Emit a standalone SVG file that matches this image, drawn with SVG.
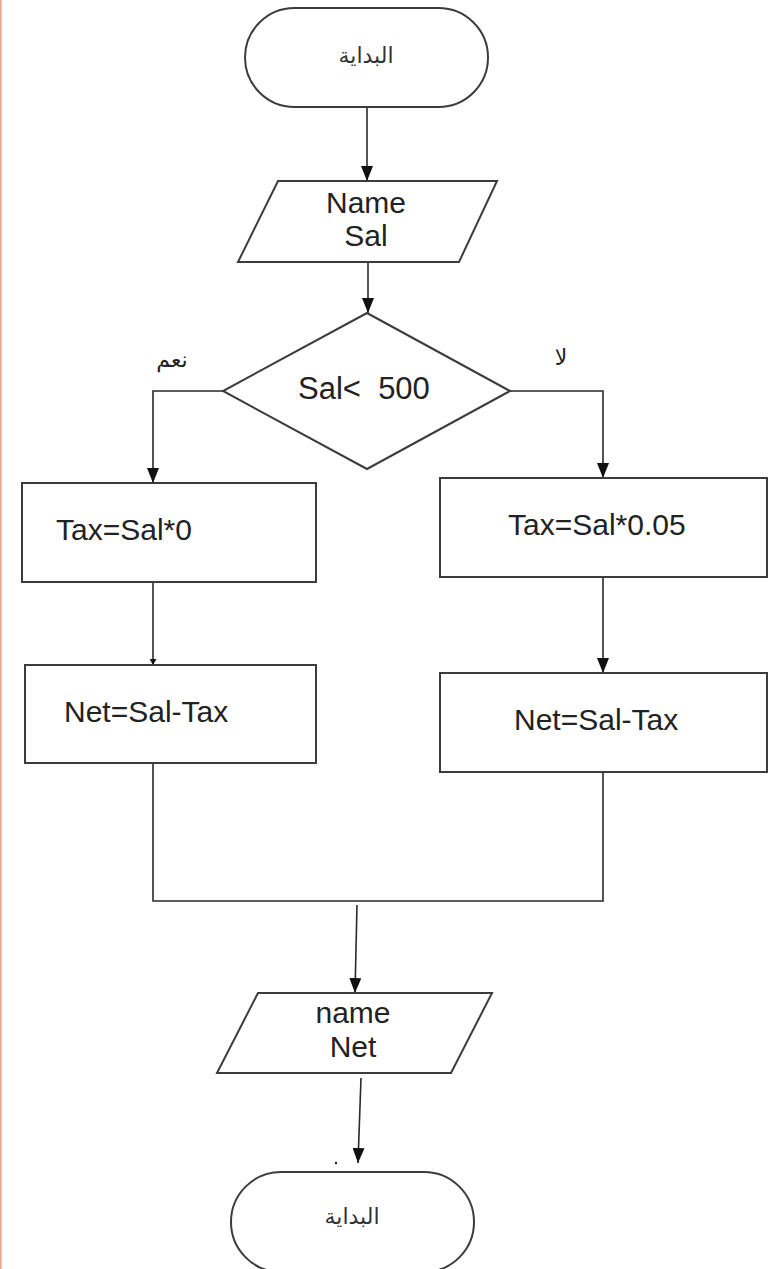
<svg xmlns="http://www.w3.org/2000/svg" width="769" height="1269" viewBox="0 0 769 1269">
<style>
.shape{fill:#fff;stroke:#3c3c3c;stroke-width:2}
.conn{fill:none;stroke:#2a2a2a;stroke-width:1.6}
.t{font-family:"Liberation Sans",Arial,sans-serif;font-size:30px;fill:#222}
.ar{font-family:"DejaVu Sans","Noto Sans",sans-serif;font-size:22px;fill:#333}
.lb{font-family:"DejaVu Sans","Noto Sans",sans-serif;font-size:22px;fill:#222}
</style>
<defs>
<marker id="ah" viewBox="0 0 15 12" refX="15" refY="6" markerWidth="15" markerHeight="12" markerUnits="userSpaceOnUse" orient="auto">
<path d="M0,0 L15,6 L0,12 Z" fill="#111"/>
</marker>
<marker id="ahs" viewBox="0 0 6 7" refX="6" refY="3.5" markerWidth="6" markerHeight="7" markerUnits="userSpaceOnUse" orient="auto">
<path d="M0,0 L6,3.5 L0,7 Z" fill="#111"/>
</marker>
</defs>
<rect x="0" y="0" width="769" height="1269" fill="#fff"/>
<line x1="0.8" y1="0" x2="0.8" y2="1269" stroke="#eea58e" stroke-width="1.6"/>

<g id="connectors">
<line class="conn" x1="367" y1="107" x2="367" y2="181" marker-end="url(#ah)"/>
<line class="conn" x1="368" y1="262" x2="368" y2="313" marker-end="url(#ah)"/>
<polyline class="conn" points="223,391 153,391 153,483" marker-end="url(#ah)"/>
<polyline class="conn" points="510,391 603,391 603,478" marker-end="url(#ah)"/>
<line class="conn" x1="153" y1="582" x2="153" y2="665" marker-end="url(#ahs)"/>
<line class="conn" x1="603" y1="577" x2="603" y2="673" marker-end="url(#ah)"/>
<polyline class="conn" points="153,763 153,901 603,901 603,772"/>
<line class="conn" x1="357" y1="905" x2="355" y2="993" marker-end="url(#ah)"/>
<line class="conn" x1="361" y1="1078" x2="358" y2="1163" marker-end="url(#ah)"/>
<circle cx="336" cy="1163" r="1.2" fill="#222"/>
<text class="lb" x="172" y="367" text-anchor="middle">نعم</text>
<text class="lb" x="561" y="365" text-anchor="middle">لا</text>
</g>

<g id="start">
<rect class="shape" x="245" y="8" width="243" height="99" rx="49.5" ry="49.5"/>
<text class="ar" x="366" y="63" text-anchor="middle">البداية</text>
</g>

<g id="input">
<polygon class="shape" points="278,181 497,181 459,262 238,262"/>
<text class="t" x="366" y="213" text-anchor="middle">Name</text>
<text class="t" x="366" y="246" text-anchor="middle">Sal</text>
</g>

<g id="decision">
<polygon class="shape" points="367,313 510,391 367,469 223,391"/>
<text class="t" x="298" y="399" xml:space="preserve" style="font-size:31px">Sal&lt;  500</text>
</g>

<g id="tax0">
<rect class="shape" x="22" y="483" width="294" height="99"/>
<text class="t" x="56" y="540">Tax=Sal*0</text>
</g>

<g id="tax005">
<rect class="shape" x="440" y="478" width="327" height="99"/>
<text class="t" x="508" y="535">Tax=Sal*0.05</text>
</g>

<g id="net-left">
<rect class="shape" x="25" y="665" width="291" height="98"/>
<text class="t" x="64" y="722">Net=Sal-Tax</text>
</g>

<g id="net-right">
<rect class="shape" x="440" y="673" width="327" height="99"/>
<text class="t" x="514" y="730">Net=Sal-Tax</text>
</g>

<g id="output">
<polygon class="shape" points="258,993 492,993 451,1073 217,1073"/>
<text class="t" x="353" y="1023" text-anchor="middle">name</text>
<text class="t" x="353" y="1057" text-anchor="middle">Net</text>
</g>

<g id="end">
<rect class="shape" x="231" y="1172" width="243" height="100" rx="50" ry="50"/>
<text class="ar" x="352" y="1224" text-anchor="middle">البداية</text>
</g>
</svg>
